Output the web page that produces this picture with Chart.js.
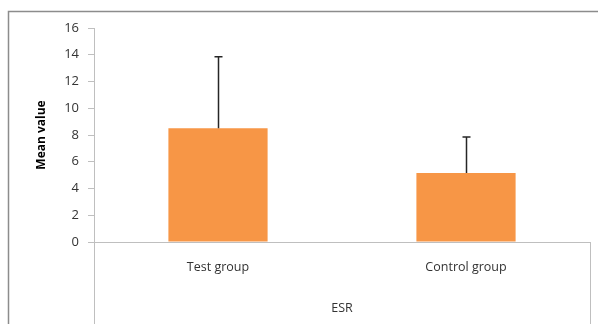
<!DOCTYPE html>
<html>
<head>
<meta charset="utf-8">
<script src="https://cdn.jsdelivr.net/npm/chart.js@4"></script>
<style>
  html, body { margin: 0; padding: 0; background: #fff; }
  #wrap { width: 598px; height: 324px; position: relative; }
</style>
</head>
<body>
<div id="wrap"><canvas id="chart" width="598" height="324"></canvas></div>
<script>
// valeurs
const groupes = ['Test group', 'Control group'];
const moyennes = [8.5, 5.15];
const erreurs = [5.35, 2.7];
const ticksY = [0, 2, 4, 6, 8, 10, 12, 14, 16];

const police = "'Open Sans', sans-serif";
const gris = '#333333';

// cadre et traits du bloc de categories
const cadrePlugin = {
    id: 'cadre',
    afterDraw(chart) {
        const ctx = chart.ctx;
        const a = chart.chartArea;
        ctx.save();
        ctx.strokeStyle = '#8c8c8c';
        ctx.lineWidth = 1.5;
        ctx.beginPath();
        ctx.moveTo(8.5, 324);
        ctx.lineTo(8.5, 11.5);
        ctx.lineTo(598, 11.5);
        ctx.stroke();

        ctx.strokeStyle = '#bfbfbf';
        ctx.lineWidth = 1;
        ctx.beginPath();
        ctx.moveTo(Math.round(a.left) + 0.5, a.bottom);
        ctx.lineTo(Math.round(a.left) + 0.5, 324);
        ctx.moveTo(Math.round(a.right) + 0.5, a.bottom);
        ctx.lineTo(Math.round(a.right) + 0.5, 324);
        ctx.stroke();
        ctx.restore();
    }
};

// barres d'erreur (seulement vers le haut)
const erreursPlugin = {
    id: 'erreurs',
    afterDatasetsDraw(chart) {
        const ctx = chart.ctx;
        const meta = chart.getDatasetMeta(0);
        const y = chart.scales.y;
        ctx.save();
        ctx.strokeStyle = '#262626';
        ctx.lineWidth = 1.5;
        meta.data.forEach((bar, i) => {
            const x = Math.round(bar.x) + 0.5;
            const yHaut = y.getPixelForValue(moyennes[i] + erreurs[i]);
            const yBas = y.getPixelForValue(moyennes[i]);
            ctx.beginPath();
            ctx.moveTo(x, yBas);
            ctx.lineTo(x, yHaut);
            ctx.moveTo(x - 4, yHaut);
            ctx.lineTo(x + 4, yHaut);
            ctx.stroke();
        });
        ctx.restore();
    }
};

new Chart(document.getElementById('chart'), {
    type: 'bar',
    data: {
        labels: groupes,
        datasets: [{
            data: moyennes,
            backgroundColor: '#F79646',
            borderWidth: 0,
            barPercentage: 0.4,
            categoryPercentage: 1
        }]
    },
    options: {
        responsive: false,
        animation: false,
        layout: { padding: { top: 28, right: 8, left: 0, bottom: 0 } },
        plugins: { legend: { display: false }, tooltip: { enabled: false } },
        scales: {
            x: {
                afterFit: s => { s.height = 82; },
                grid: { display: false },
                border: { display: true, color: '#bfbfbf', width: 1 },
                ticks: { color: gris, font: { family: police, size: 12.5 }, padding: 10 },
                title: {
                    display: true, text: 'ESR', color: gris,
                    font: { family: police, size: 12.5 },
                    padding: { top: 0, bottom: 8 }
                }
            },
            y: {
                min: 0, max: 16,
                afterFit: s => { s.width = 94; },
                afterBuildTicks: s => { s.ticks = ticksY.map(v => ({ value: v })); },
                grid: { drawOnChartArea: false, tickLength: 6, color: '#bfbfbf' },
                border: { display: true, color: '#bfbfbf', width: 1 },
                ticks: { color: gris, font: { family: police, size: 13 }, padding: 9 },
                title: {
                    display: true, text: 'Mean value', color: '#000',
                    font: { family: police, size: 12, weight: 'bold' },
                    padding: { top: 34, bottom: 0 }
                }
            }
        }
    },
    plugins: [cadrePlugin, erreursPlugin]
});
</script>
</body>
</html>
